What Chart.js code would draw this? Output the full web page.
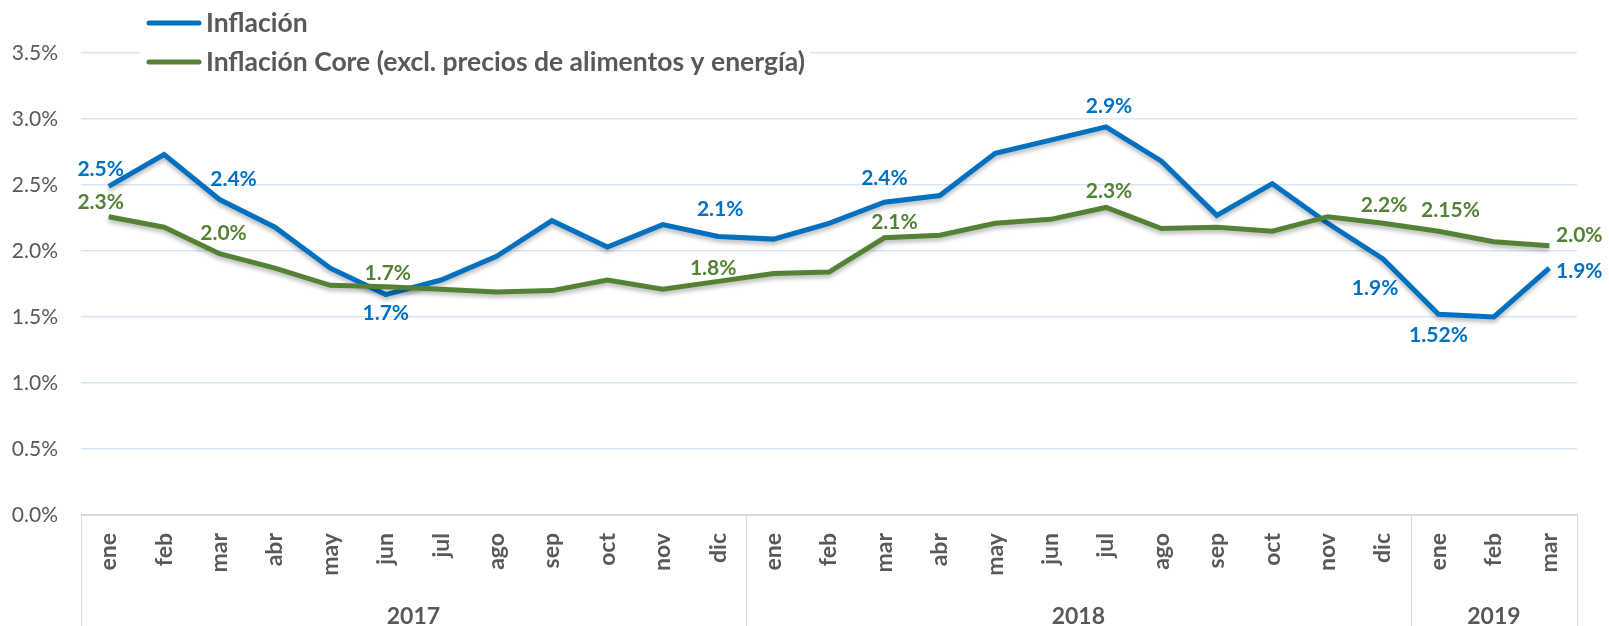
<!DOCTYPE html>
<html>
<head>
<meta charset="utf-8">
<script src="https://cdn.jsdelivr.net/npm/chart.js@4.4.1/dist/chart.umd.min.js"></script>
<style>
  html, body { margin: 0; padding: 0; background: #fff; }
</style>
</head>
<body>
<canvas id="myChart" width="1609" height="626"></canvas>
<script>
const months = ['ene', 'feb', 'mar', 'abr', 'may', 'jun', 'jul', 'ago', 'sep', 'oct', 'nov', 'dic',
                'ene', 'feb', 'mar', 'abr', 'may', 'jun', 'jul', 'ago', 'sep', 'oct', 'nov', 'dic',
                'ene', 'feb', 'mar'];
const years = ['2017', '2018', '2019'];
const monthsPerYear = [12, 12, 3];
const yTicks = [0, 0.5, 1.0, 1.5, 2.0, 2.5, 3.0, 3.5];

const inflacion = [2.49, 2.73, 2.39, 2.18, 1.87, 1.67, 1.78, 1.96, 2.23, 2.03, 2.20, 2.11,
                   2.09, 2.21, 2.37, 2.42, 2.74, 2.84, 2.94, 2.68, 2.27, 2.51, 2.21, 1.94,
                   1.52, 1.50, 1.87];
const inflacionCore = [2.26, 2.18, 1.98, 1.87, 1.74, 1.73, 1.71, 1.69, 1.70, 1.78, 1.71, 1.77,
                       1.83, 1.84, 2.10, 2.12, 2.21, 2.24, 2.33, 2.17, 2.18, 2.15, 2.26, 2.21,
                       2.15, 2.07, 2.04];

// data label texts (null = no label)
const inflacionLabels = ['2.5%', null, '2.4%', null, null, '1.7%', null, null, null, null, null, '2.1%',
                         null, null, '2.4%', null, null, null, '2.9%', null, null, null, null, '1.9%',
                         '1.52%', null, '1.9%'];
const coreLabels = ['2.3%', null, '2.0%', null, null, '1.7%', null, null, null, null, null, '1.8%',
                    null, null, '2.1%', null, null, null, '2.3%', null, null, null, null, '2.2%',
                    '2.15%', null, '2.0%'];

const textGray = '#595959';
const blue = '#0070C0';
const green = '#548235';

function myLoadFunction() {
    const ctx = document.getElementById('myChart').getContext('2d');

    const overlay = {
        id: 'overlay',
        beforeDatasetsDraw(chart) {
            const c = chart.ctx;
            c.save();
            c.shadowColor = 'rgba(0,0,0,0.28)';
            c.shadowBlur = 4;
            c.shadowOffsetY = 3;
        },
        afterDatasetsDraw(chart, args, opts) {
            const c = chart.ctx;
            c.restore();
            // data labels
            c.save();
            c.font = 'bold 21px Lato, "Open Sans", sans-serif';
            c.textAlign = 'center';
            c.textBaseline = 'middle';
            chart.data.datasets.forEach((ds, di) => {
                const meta = chart.getDatasetMeta(di);
                const offs = opts.offsets[di];
                c.fillStyle = ds.borderColor;
                ds.labelTexts.forEach((t, i) => {
                    if (!t) return;
                    const pt = meta.data[i];
                    const o = offs[i] || [0, -20];
                    c.fillText(t, pt.x + o[0], pt.y + o[1]);
                });
            });
            c.restore();
        },
        afterDraw(chart) {
            const c = chart.ctx;
            const x = chart.scales.x;
            const area = chart.chartArea;
            const half = (x.getPixelForValue(1) - x.getPixelForValue(0)) / 2;
            c.save();
            // year separators
            c.strokeStyle = '#d9d9d9';
            c.lineWidth = 1;
            let idx = 0;
            const bounds = [0];
            monthsPerYear.forEach(n => { idx += n; bounds.push(idx); });
            bounds.forEach(b => {
                const px = Math.round(x.getPixelForValue(b) - half) + 0.5;
                c.beginPath();
                c.moveTo(px, area.bottom);
                c.lineTo(px, chart.height);
                c.stroke();
            });
            // year labels
            c.fillStyle = textGray;
            c.font = 'bold 23px Lato, "Open Sans", sans-serif';
            c.textAlign = 'center';
            c.textBaseline = 'middle';
            years.forEach((y, k) => {
                const x0 = x.getPixelForValue(bounds[k]) - half;
                const x1 = x.getPixelForValue(bounds[k + 1]) - half;
                c.fillText(y, (x0 + x1) / 2, 617);
            });
            // legend
            c.fillStyle = '#ffffff';
            c.fillRect(140, 0, 670, 80);
            c.font = 'bold 26.5px Lato, "Open Sans", sans-serif';
            c.textAlign = 'left';
            chart.data.datasets.forEach((ds, di) => {
                const ly = 23 + di * 39;
                c.strokeStyle = ds.borderColor;
                c.lineWidth = 5;
                c.lineCap = 'round';
                c.beginPath();
                c.moveTo(149, ly);
                c.lineTo(199, ly);
                c.stroke();
                c.fillStyle = textGray;
                c.fillText(ds.label, 206, ly);
            });
            c.restore();
        }
    };

    const myChartConfig = {
        type: 'line',
        data: {
            labels: months,
            datasets: [
                {
                    label: 'Inflación',
                    data: inflacion,
                    labelTexts: inflacionLabels,
                    borderColor: blue,
                    borderWidth: 5,
                    pointRadius: 0,
                    tension: 0,
                    order: 1
                },
                {
                    label: 'Inflación Core (excl. precios de alimentos y energía)',
                    data: inflacionCore,
                    labelTexts: coreLabels,
                    borderColor: green,
                    borderWidth: 5,
                    pointRadius: 0,
                    tension: 0,
                    order: 0
                }
            ]
        },
        options: {
            responsive: false,
            animation: false,
            devicePixelRatio: 1,
            layout: { padding: { top: 53, right: 32, left: 0, bottom: 0 } },
            plugins: {
                legend: { display: false },
                tooltip: { enabled: false },
                overlay: {
                    offsets: [
                        { 0: [-8, -17], 2: [14, -20], 5: [0, 19], 11: [2, -27], 14: [0, -24],
                          18: [3, -21], 23: [-8, 29], 24: [0, 21], 26: [30, 3] },
                        { 0: [-8, -14], 2: [4, -20], 5: [2, -13], 11: [-5, -13], 14: [10, -16],
                          18: [3, -16], 23: [1, -18], 24: [12, -21], 26: [30, -10] }
                    ]
                }
            },
            scales: {
                x: {
                    offset: true,
                    grid: { display: false, drawTicks: false },
                    border: { display: true, color: '#d9d9d9', width: 1 },
                    ticks: {
                        autoSkip: false,
                        minRotation: 90,
                        maxRotation: 90,
                        padding: 18,
                        color: textGray,
                        font: { family: 'Lato, "Open Sans", sans-serif', size: 23, weight: 'bold' }
                    },
                    afterFit(scale) { scale.height = 111; }
                },
                y: {
                    min: 0,
                    max: 3.5,
                    afterBuildTicks(scale) { scale.ticks = yTicks.map(v => ({ value: v })); },
                    grid: {
                        drawTicks: false,
                        color: c => (c.tick && c.tick.value === 0) ? '#d9d9d9' : '#d9e5f2',
                        lineWidth: 1.5
                    },
                    border: { display: false },
                    ticks: {
                        padding: 23,
                        color: textGray,
                        font: { family: 'Lato, "Open Sans", sans-serif', size: 21 },
                        callback: v => v.toFixed(1) + '%'
                    },
                    afterFit(scale) { scale.width = 81; }
                }
            }
        },
        plugins: [overlay]
    };
    const myChart = new Chart(ctx, myChartConfig);
}

document.addEventListener('DOMContentLoaded', myLoadFunction);
</script>
</body>
</html>
